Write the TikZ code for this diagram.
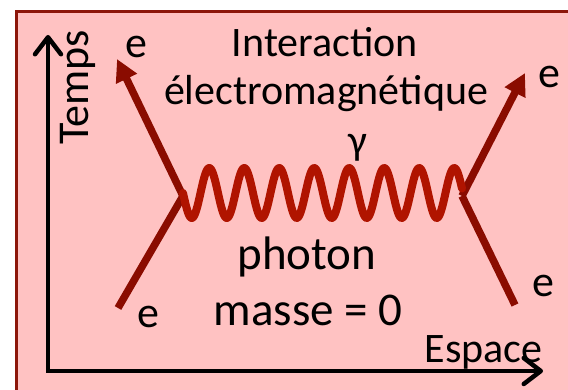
\documentclass[tikz,border=0pt]{standalone}
\usepackage{fontspec}
\setmainfont{Carlito}
\usetikzlibrary{arrows.meta}
\definecolor{fondrose}{RGB}{255,194,194}
\definecolor{bordrouge}{RGB}{140,22,10}
\definecolor{rougeelec}{RGB}{138,12,0}
\definecolor{rougephot}{RGB}{176,20,0}
\begin{document}
\begin{tikzpicture}[
    x=1pt, y=-1pt,
    txt/.style={font=\fontsize{42}{46}\selectfont, inner sep=0pt, anchor=base},
    grand/.style={txt, font=\fontsize{47}{50}\selectfont},
    axe/.style={line width=4.5pt, {Straight Barb[length=17pt,width=26pt,round]}-{Straight Barb[length=17pt,width=26pt,round]}},
    fermion/.style={draw=rougeelec, line width=7.5pt},
    fleche/.style={fermion, -{Triangle[length=22pt,width=22pt]}},
    photon/.style={draw=rougephot, line width=8pt, line cap=round, line join=round}
]
    \useasboundingbox (0,0) rectangle (568,390);
    \clip (0,0) rectangle (568,390);
    \draw[bordrouge, fill=fondrose, line width=3pt] (16,12) rectangle (600,420);

    % axes
    \coordinate (haut) at (48,35);
    \coordinate (droite) at (543,371);
    \draw[axe] (haut) |- (droite);
    \node[txt, font=\fontsize{44}{46}\selectfont, rotate=90] (temps) at (88,87.5) {Temps};
    \node[txt] (espace) at (483.5,362) {Espace};

    % vertices
    \coordinate (vG) at (183,196);
    \coordinate (vD) at (462,196);

    % electrons
    \coordinate (inG) at (118,308);
    \coordinate (outG) at (117,59);
    \coordinate (inD) at (515,305);
    \coordinate (outD) at (525,73);
    \draw[fermion] (inG) -- (vG);
    \draw[fleche] (vG) -- (outG);
    \draw[fermion] (inD) -- (vD);
    \draw[fleche] (vD) -- (outD);

    % photon
    \draw[photon] plot[domain=183:462, samples=320] (\x, {193+25*sin(((\x-183)/35)*360)});

    \node[txt, font=\fontsize{44}{46}\selectfont] (eHG) at (136,58) {e};
    \node[txt, font=\fontsize{44}{46}\selectfont] (eHD) at (549,88) {e};
    \node[txt, font=\fontsize{44}{46}\selectfont] (eBG) at (148,327) {e};
    \node[txt, font=\fontsize{44}{46}\selectfont] (eBD) at (543,297) {e};

    \node[txt] (inter) at (325,57) {Interaction};
    \node[txt] (em) at (326,105) {électromagnétique};
    \node[txt] (gamma) at (358,155) {γ};
    \node[grand] (phot) at (307,270) {photon};
    \node[grand] (masse) at (308,325) {masse = 0};
\end{tikzpicture}
\end{document}
